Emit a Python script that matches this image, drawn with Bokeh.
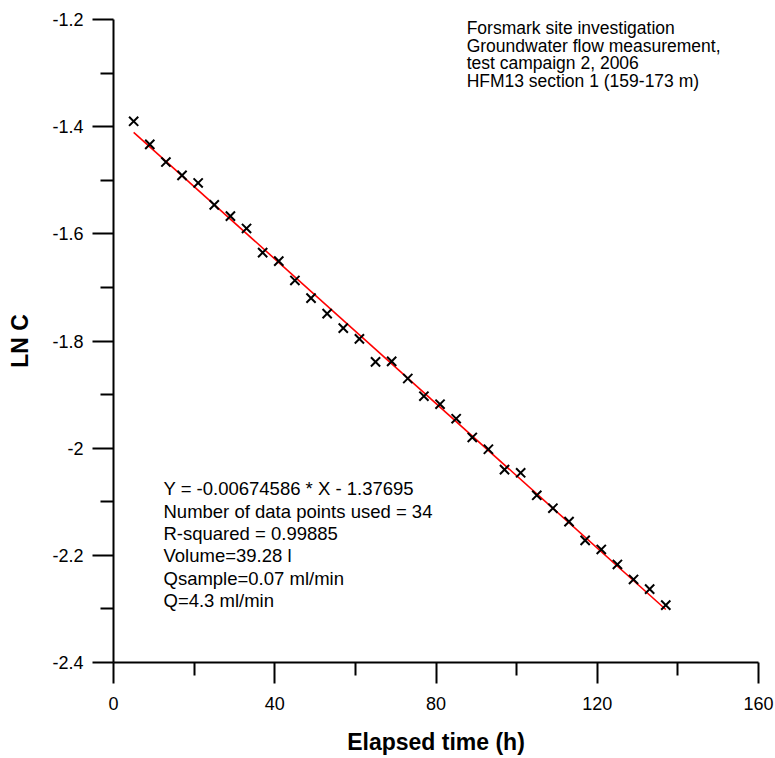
from bokeh.plotting import figure
from bokeh.models import Range1d, FixedTicker
from bokeh.embed import file_html
from bokeh.resources import INLINE
from bokeh.core.properties import value

# Elapsed time (h) and ln of concentration for each sample
elapsed_h = [5, 9, 13, 17, 21, 25, 29, 33, 37, 41, 45, 49, 53, 57, 61, 65, 69,
             73, 77, 81, 85, 89, 93, 97, 101, 105, 109, 113, 117, 121, 125, 129,
             133, 137]
ln_c = [-1.390, -1.433, -1.466, -1.491, -1.505, -1.546, -1.567, -1.590, -1.635,
        -1.651, -1.687, -1.720, -1.749, -1.776, -1.796, -1.839, -1.838, -1.870,
        -1.903, -1.918, -1.945, -1.980, -2.002, -2.040, -2.046, -2.088, -2.112,
        -2.137, -2.172, -2.189, -2.217, -2.245, -2.263, -2.293]

# Regression result
slope = -0.00674586
intercept = -1.37695

x_ticks = [0, 40, 80, 120, 160]
y_ticks = [-1.2, -1.4, -1.6, -1.8, -2.0, -2.2, -2.4]
y_tick_labels = {-1.2: "-1.2", -1.4: "-1.4", -1.6: "-1.6", -1.8: "-1.8",
                 -2.0: "-2", -2.2: "-2.2", -2.4: "-2.4"}

info_lines = ["Forsmark site investigation",
              "Groundwater flow measurement,",
              "test campaign 2, 2006",
              "HFM13 section 1 (159-173 m)"]
fit_lines = ["Y = -0.00674586 * X - 1.37695",
             "Number of data points used = 34",
             "R-squared = 0.99885",
             "Volume=39.28 l",
             "Qsample=0.07 ml/min",
             "Q=4.3 ml/min"]

FONT = "Liberation Sans"

p = figure(width=775, height=758, output_backend="svg", toolbar_location=None,
           x_range=Range1d(0, 160), y_range=Range1d(-2.4, -1.2),
           min_border_left=113, min_border_right=17, min_border_top=19,
           min_border_bottom=96)
p.outline_line_color = None
p.xgrid.visible = False
p.ygrid.visible = False
p.background_fill_color = "white"
p.border_fill_color = "white"

for ax in (p.xaxis[0], p.yaxis[0]):
    ax.axis_line_width = 2
    ax.axis_line_color = "black"
    ax.major_tick_line_width = 2
    ax.minor_tick_line_width = 2
    ax.major_tick_line_color = "black"
    ax.minor_tick_line_color = "black"
    ax.major_tick_in = 0
    ax.minor_tick_in = 0
    ax.major_tick_out = 21
    ax.minor_tick_out = 13
    ax.major_label_text_font = FONT
    ax.major_label_text_font_size = "18px"
    ax.major_label_text_color = "black"
    ax.axis_label_text_font = FONT
    ax.axis_label_text_font_style = "bold"
    ax.axis_label_text_font_size = "23px"
    ax.axis_label_text_color = "black"

p.xaxis.ticker = FixedTicker(ticks=x_ticks, minor_ticks=[20, 60, 100, 140])
p.yaxis.ticker = FixedTicker(ticks=y_ticks,
                             minor_ticks=[-1.3, -1.5, -1.7, -1.9, -2.1, -2.3])
p.yaxis.major_label_overrides = y_tick_labels
p.xaxis.axis_label = "Elapsed time (h)"
p.yaxis.axis_label = "LN C"
p.xaxis.major_label_standoff = 13
p.yaxis.major_label_standoff = 9
p.xaxis.axis_label_standoff = 16
p.yaxis.axis_label_standoff = 16

# fitted line over the measured interval
fx = [elapsed_h[0], elapsed_h[-1]]
fy = [slope * v + intercept for v in fx]
p.line(fx, fy, line_color="red", line_width=1.6)

p.scatter(elapsed_h, ln_c, marker="x", size=13, line_color="black",
          line_width=2)

for i, t in enumerate(info_lines):
    p.text(x=[87.6], y=[-1.216 - 0.0327 * i], text=[t],
           text_font=value(FONT), text_font_size="17.5px",
           text_baseline="middle", text_align="left", text_color="black")

for i, t in enumerate(fit_lines):
    p.text(x=[12.4], y=[-2.076 - 0.0416 * i], text=[t],
           text_font=value(FONT), text_font_size="18.5px",
           text_baseline="middle", text_align="left", text_color="black")

open("out.html", "w").write(file_html(p, INLINE))
